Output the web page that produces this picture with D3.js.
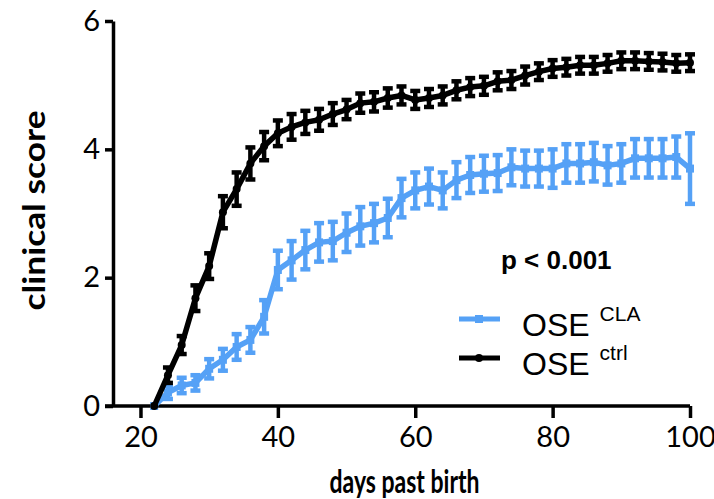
<!DOCTYPE html>
<html>
<head>
<meta charset="utf-8">
<script src="https://cdn.jsdelivr.net/npm/d3@7"></script>
<style>
  body { margin: 0; background: #fff; }
  .tick text { font-family: Lato, "Open Sans", sans-serif; }
</style>
</head>
<body>
<div id="chart"></div>
<script>
// days past birth, every second day
const days = d3.range(22, 101, 2);

// OSE ctrl mean clinical score and SEM
const ctrlMean = [0, 0.48, 0.95, 1.68, 2.18, 3.02, 3.38, 3.78, 4.05, 4.25,
    4.35, 4.42, 4.46, 4.55, 4.62, 4.72, 4.74, 4.8, 4.84, 4.77,
    4.8, 4.84, 4.92, 4.97, 4.99, 5.06, 5.08, 5.15, 5.21, 5.26,
    5.28, 5.31, 5.31, 5.34, 5.38, 5.38, 5.37, 5.36, 5.34, 5.35];
const ctrlSem = [0, 0.12, 0.14, 0.2, 0.2, 0.25, 0.26, 0.25, 0.22, 0.2,
    0.2, 0.18, 0.17, 0.17, 0.15, 0.15, 0.15, 0.15, 0.14, 0.14,
    0.14, 0.14, 0.14, 0.14, 0.14, 0.14, 0.14, 0.14, 0.13, 0.13,
    0.13, 0.13, 0.13, 0.13, 0.13, 0.13, 0.13, 0.13, 0.13, 0.13];

// OSE CLA mean clinical score and SEM
const claMean = [0, 0.21, 0.32, 0.36, 0.58, 0.72, 0.92, 1.03, 1.39, 2.12,
    2.27, 2.43, 2.55, 2.57, 2.7, 2.8, 2.85, 2.93, 3.24, 3.36,
    3.42, 3.36, 3.52, 3.6, 3.62, 3.63, 3.72, 3.7, 3.7, 3.7,
    3.78, 3.78, 3.8, 3.75, 3.78, 3.86, 3.86, 3.86, 3.88, 3.7];
const claSem = [0, 0.1, 0.12, 0.12, 0.15, 0.17, 0.2, 0.2, 0.26, 0.3,
    0.3, 0.3, 0.3, 0.3, 0.3, 0.3, 0.3, 0.3, 0.3, 0.28,
    0.28, 0.28, 0.28, 0.28, 0.28, 0.28, 0.28, 0.28, 0.28, 0.3,
    0.3, 0.3, 0.3, 0.3, 0.3, 0.3, 0.3, 0.3, 0.32, 0.55];

const xTicks = [20, 40, 60, 80, 100];
const yTicks = [0, 2, 4, 6];

const blue = "#55a1f6";

const W = 714, H = 499;
const margin = {top: 21, right: 24, bottom: 93, left: 113};

const svg = d3.select("#chart")
  .append("svg")
    .attr("width", W)
    .attr("height", H);

const x = d3.scaleLinear()
    .domain([16, 100])
    .range([margin.left, W - margin.right]);

const y = d3.scaleLinear()
    .domain([0, 6])
    .range([H - margin.bottom, margin.top]);

// axes
const xAxis = svg.append("g")
    .attr("transform", `translate(0,${y(0)})`)
    .call(d3.axisBottom(x).tickValues(xTicks).tickFormat(d3.format("d"))
        .tickSize(12).tickPadding(8).tickSizeOuter(0));

const yAxis = svg.append("g")
    .attr("transform", `translate(${x(16)},0)`)
    .call(d3.axisLeft(y).tickValues(yTicks).tickFormat(d3.format("d"))
        .tickSize(8).tickPadding(5).tickSizeOuter(0));

[xAxis, yAxis].forEach(a => {
  a.select(".domain").attr("stroke", "#000").attr("stroke-width", 3.5);
  a.selectAll(".tick line").attr("stroke", "#000").attr("stroke-width", 3.5);
  a.selectAll(".tick text").attr("fill", "#000").style("font-size", "29px");
});
// let the x axis line reach the y tick at 0
xAxis.select(".domain").attr("d", `M${x(16) - 8},0H${x(100)}`);

// axis titles
svg.append("text")
    .attr("x", (x(16) + x(100)) / 2 + 3)
    .attr("y", 493)
    .attr("text-anchor", "middle")
    .attr("textLength", 150)
    .attr("lengthAdjust", "spacingAndGlyphs")
    .style("font-family", "Lato, sans-serif")
    .style("font-weight", "bold")
    .style("font-size", "32px")
    .text("days past birth");

svg.append("text")
    .attr("transform", `translate(45,${y(3) - 3}) rotate(-90)`)
    .attr("text-anchor", "middle")
    .attr("textLength", 200)
    .attr("lengthAdjust", "spacingAndGlyphs")
    .style("font-family", "Lato, sans-serif")
    .style("font-weight", "bold")
    .style("font-size", "31px")
    .text("clinical score");

const ctrl = days.map((d, i) => ({day: d, mean: ctrlMean[i], sem: ctrlSem[i]}));
const cla = days.map((d, i) => ({day: d, mean: claMean[i], sem: claSem[i]}));

const line = d3.line()
    .x(d => x(d.day))
    .y(d => y(d.mean));

function drawSeries(data, color, marker) {
  const g = svg.append("g");

  g.append("path")
      .datum(data)
      .attr("fill", "none")
      .attr("stroke", color)
      .attr("stroke-width", 5.5)
      .attr("stroke-linejoin", "round")
      .attr("d", line);

  const bars = g.selectAll(".err")
      .data(data.filter(d => d.sem > 0))
      .enter()
      .append("g");

  bars.append("line")
      .attr("x1", d => x(d.day)).attr("x2", d => x(d.day))
      .attr("y1", d => y(d.mean - d.sem)).attr("y2", d => y(d.mean + d.sem))
      .attr("stroke", color).attr("stroke-width", 4.5);

  [-1, 1].forEach(s => {
    bars.append("line")
        .attr("x1", d => x(d.day) - 5).attr("x2", d => x(d.day) + 5)
        .attr("y1", d => y(d.mean + s * d.sem)).attr("y2", d => y(d.mean + s * d.sem))
        .attr("stroke", color).attr("stroke-width", 4.5);
  });

  if (marker === "circle") {
    g.selectAll("circle")
        .data(data)
        .enter()
        .append("circle")
          .attr("cx", d => x(d.day))
          .attr("cy", d => y(d.mean))
          .attr("r", 4)
          .attr("fill", color);
  } else {
    g.selectAll("rect")
        .data(data)
        .enter()
        .append("rect")
          .attr("x", d => x(d.day) - 4)
          .attr("y", d => y(d.mean) - 4)
          .attr("width", 8)
          .attr("height", 8)
          .attr("fill", color);
  }
}

drawSeries(cla, blue, "square");
drawSeries(ctrl, "#000", "circle");

// p value
svg.append("text")
    .attr("x", 501)
    .attr("y", 269)
    .style("font-family", "'Liberation Sans', Arial, sans-serif")
    .style("font-weight", "bold")
    .style("font-size", "26px")
    .text("p < 0.001");

// legend
const legend = [
  {name: "OSE", sup: "CLA", color: blue, marker: "square", y: 319},
  {name: "OSE", sup: "ctrl", color: "#000", marker: "circle", y: 358}
];

legend.forEach(l => {
  const g = svg.append("g");
  g.append("line")
      .attr("x1", 459).attr("x2", 500)
      .attr("y1", l.y).attr("y2", l.y)
      .attr("stroke", l.color).attr("stroke-width", 5);
  if (l.marker === "square") {
    g.append("rect").attr("x", 475).attr("y", l.y - 4).attr("width", 8).attr("height", 8).attr("fill", l.color);
  } else {
    g.append("circle").attr("cx", 479).attr("cy", l.y).attr("r", 4).attr("fill", l.color);
  }
  const t = g.append("text")
      .attr("x", 522)
      .attr("y", l.y + 17)
      .style("font-family", "'Liberation Sans', Arial, sans-serif")
      .style("font-size", "32px")
      .attr("fill", "#000");
  t.append("tspan").text(l.name);
  t.append("tspan")
      .attr("dx", 10)
      .attr("dy", -15)
      .style("font-size", "21px")
      .text(l.sup);
});
</script>
</body>
</html>
